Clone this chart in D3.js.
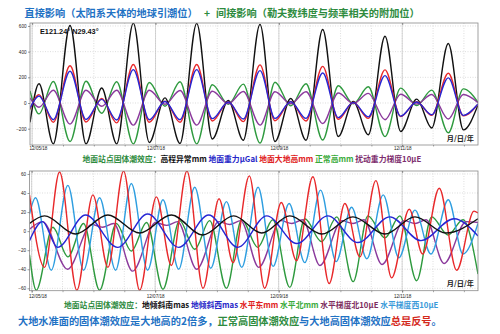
<!DOCTYPE html>
<html>
<head>
<meta charset="utf-8">
<script src="https://cdn.jsdelivr.net/npm/d3@7"></script>
<style>
  html, body { margin: 0; padding: 0; background: #fff; }
  svg { display: block; }
</style>
</head>
<body>
<svg id="chart" width="500" height="334"></svg>
<script>
// Time is counted in hours after 2018-12-05 00:00 (UTC).
const startHour = -0.84;
const endHour = 173.48;

// ---- upper panel: station solid-tide effects (extrema of each wave) ----
const tideHours = [-0.84, 2.67, 8.23, 14.73, 20.95, 27.06, 32.90, 39.36, 45.58, 51.69,
  57.53, 64.03, 70.10, 76.32, 82.16, 88.66, 94.49, 100.60, 106.56, 113.05,
  119.12, 124.96, 130.80, 137.30, 143.40, 149.63, 155.47, 161.93, 167.78, 173.48];
const heightAnomaly = [-150, 150, -318, 604, -318, 117, -318, 622, -307, 40,
  -315, 620, -280, 20, -290, 612, -300, 35, -290, 572,
  -261, 12, -247, 520, -222, 30, -195, 463, -209, -15];
const surfaceGravity = [-40, 55, -130, 247, -128, 28, -132, 260, -130, 12,
  -130, 260, -122, 8, -125, 252, -120, 10, -120, 234,
  -114, 5, -108, 213, -102, 8, -92, 196, -96, -8];
const geodeticHeight = [-50, 65, -150, 290, -148, 35, -155, 300, -150, 15,
  -150, 300, -140, 10, -145, 297, -138, 12, -140, 285,
  -127, 6, -120, 258, -106, 10, -96, 232, -100, -10];
const normalHeight = [95, -85, 168, -300, 170, -80, 165, -318, 160, -25,
  165, -318, 142, -10, 147, -312, 162, -22, 150, -288,
  134, -6, 126, -262, 116, -20, 100, -232, 110, 5];
const gravityGradient = [40, -33, 99, -164, 99, -25, 99, -172, 99, -10,
  97, -172, 92, -5, 90, -172, 88, -6, 88, -160,
  78, -3, 75, -130, 68, -8, 66, -125, 66, 3];
const upperTicks = [-200, 0, 200, 400, 600];

// ---- lower panel: tilt, horizontal displacement and gradient ([hour, value]) ----
const tiltSouth = [[-0.84, 8], [5.0, 16], [17.06, -3], [29.63, 17], [41.97, -2], [54.30, 17],
  [66.48, -4], [78.54, 16], [89.44, -2], [100.33, 16], [112.78, -3], [124.84, 15],
  [137.30, -3], [148.97, 15], [161.03, -2], [173.48, 13]];
const tiltWest = [[-0.84, -10], [4.22, 10], [10.06, -17], [20.95, 17], [33.40, -17], [45.08, 18],
  [57.15, -17], [68.83, 17], [80.11, -17], [91.39, 16], [103.06, -13], [115.12, 16],
  [126.79, -12], [139.24, 15], [151.30, -10], [164.14, 13], [173.48, -5]];
const eastDisp = [[-0.84, 38], [5.0, -38], [10.84, 62], [17.57, -62], [23.79, 38], [29.63, -38],
  [35.74, 63], [41.97, -62], [48.46, 36], [54.30, -36], [60.37, 63], [66.60, -60],
  [72.82, 34], [78.27, -33], [84.6, 58], [90.56, -60], [97.0, 30], [102.94, -31],
  [109.3, 57], [115.62, -55], [121.73, 29], [127.57, -27], [133.79, 53], [139.90, -49],
  [146.75, 23], [151.97, -24], [158.42, 45], [165.19, -41], [171.93, 21], [173.48, 19]];
const northDisp = [[-0.84, -25], [1.77, -62], [8.23, 4], [14.07, -27], [20.18, 8], [26.40, -62],
  [32.90, 8], [38.74, -21], [44.69, 9], [51.03, -61], [57.53, 11], [63.37, -19],
  [69.20, 11], [75.70, -60], [81.66, 12], [87.88, -17], [93.72, 12], [100.33, -59],
  [106.17, 13], [112.67, -11], [118.62, 15], [124.96, -53], [130.70, 16], [137.30, -7],
  [143.13, 16], [149.63, -52], [155.47, 15], [161.81, -4], [167.65, 12], [173.48, -45]];
const gradNorth = [[-0.84, 2], [4.22, 10], [13.95, -40], [23.29, 7], [27.57, 4], [31.85, 8],
  [39.24, -42], [48.19, 9], [52.47, 6], [56.75, 10], [64.14, -40], [72.70, 10],
  [76.98, 7], [81.26, 11], [88.27, -38], [96.83, 11], [101.11, 8], [105.39, 12],
  [112.06, -36], [120.62, 11], [124.90, 8], [129.18, 12], [136.19, -35], [144.75, 11],
  [149.03, 8], [153.31, 12], [160.31, -34], [168.87, 10], [173.48, 9]];
const gradWest = [[-0.84, 18], [1.50, 35], [7.61, -41], [14.07, 48], [20.18, -41], [26.40, 35],
  [32.63, -41], [38.74, 50], [45.08, -41], [51.03, 33], [57.15, -40], [63.37, 46],
  [69.60, -39], [75.70, 31], [81.66, -38], [88.0, 46], [93.83, -37], [100.06, 29],
  [106.17, -33], [112.28, 43], [118.35, -32], [124.34, 25], [130.29, -29], [136.63, 38],
  [142.74, -28], [148.97, 22], [155.19, -24], [161.93, 33], [167.65, -24], [173.48, 8]];
const lowerTicks = [-60, -40, -20, 0, 20, 40, 60];

const cjk = "'Noto Sans CJK SC', 'Noto Sans', sans-serif";
const latin = "'Liberation Sans', Arial, sans-serif";

const svg = d3.select("#chart");
const base = Date.UTC(2018, 11, 5);
const toDate = h => new Date(base + h * 3600e3);

function drawPanel(cfg) {
  const { id, left, right, top, bottom, yDomain, yTicks, series, labelBaseline } = cfg;
  const x = d3.scaleUtc().domain([toDate(startHour), toDate(endHour)]).range([left, right]);
  const y = d3.scaleLinear().domain(yDomain).range([bottom, top]);
  const g = svg.append("g");
  const [d0, d1] = x.domain();

  g.append("rect").attr("x", left).attr("y", top)
    .attr("width", right - left).attr("height", bottom - top).attr("fill", "#fff");

  // grid: every 12 hours, heavier at the labelled days
  const halfDays = d3.utcHour.every(12).range(d0, d1);
  const labelDays = d3.utcDay.every(2).range(d0, d1);
  g.append("g").selectAll("line").data(halfDays).join("line")
    .attr("x1", d => x(d)).attr("x2", d => x(d)).attr("y1", top).attr("y2", bottom)
    .attr("stroke", "#c8c8c8").attr("stroke-width", 0.6).attr("stroke-dasharray", "1,1.5");
  g.append("g").selectAll("line").data(labelDays).join("line")
    .attr("x1", d => x(d)).attr("x2", d => x(d)).attr("y1", top).attr("y2", bottom)
    .attr("stroke", "#c4c4c4").attr("stroke-width", 0.7);
  g.append("g").selectAll("line").data(yTicks).join("line")
    .attr("x1", left).attr("x2", right).attr("y1", d => y(d)).attr("y2", d => y(d))
    .attr("stroke", "#c8c8c8").attr("stroke-width", 0.6).attr("stroke-dasharray", "1,1.5");

  // curves
  svg.append("defs").append("clipPath").attr("id", id)
    .append("rect").attr("x", left).attr("y", top).attr("width", right - left).attr("height", bottom - top);
  const line = d3.line().x(d => x(toDate(d[0]))).y(d => y(d[1])).curve(d3.curveMonotoneX);
  const curves = g.append("g").attr("clip-path", `url(#${id})`);
  series.forEach(s => {
    curves.append("path").attr("d", line(s.points)).attr("fill", "none")
      .attr("stroke", s.color).attr("stroke-width", 1.4).attr("stroke-linejoin", "round");
  });

  // frame
  g.append("rect").attr("x", left).attr("y", top)
    .attr("width", right - left).attr("height", bottom - top)
    .attr("fill", "none").attr("stroke", "#8a8a8a").attr("stroke-width", 0.8);

  // x axis
  const xa = g.append("g").attr("transform", `translate(0,${bottom})`)
    .call(d3.axisBottom(x).tickValues(labelDays).tickFormat(d3.utcFormat("%m/%d/%y"))
      .tickSize(2).tickPadding(1));
  g.append("g").attr("transform", `translate(0,${bottom})`)
    .call(d3.axisBottom(x).tickValues(halfDays).tickFormat("").tickSize(1.5))
    .call(a => a.select(".domain").remove())
    .selectAll("line").attr("stroke", "#555").attr("stroke-width", 0.5);
  xa.select(".domain").remove();
  xa.selectAll("line").attr("stroke", "#555").attr("stroke-width", 0.6);
  xa.selectAll("text").attr("font-family", latin).attr("font-size", 4.6).attr("fill", "#222")
    .attr("dy", null).attr("y", labelBaseline - bottom);
  xa.selectAll(".tick").filter((d, i) => i === 0).select("text")
    .attr("text-anchor", "start").attr("x", left - x(labelDays[0]) - 1);
  g.append("g").attr("transform", `translate(0,${top})`)
    .call(d3.axisTop(x).tickValues(labelDays).tickFormat("").tickSize(-2))
    .call(a => a.select(".domain").remove())
    .selectAll("line").attr("stroke", "#555").attr("stroke-width", 0.6);

  // y axis
  const ya = g.append("g").attr("transform", `translate(${left},0)`)
    .call(d3.axisLeft(y).tickValues(yTicks).tickSize(2).tickPadding(1.5));
  ya.select(".domain").remove();
  ya.selectAll("line").attr("stroke", "#555").attr("stroke-width", 0.6);
  ya.selectAll("text").attr("font-family", latin).attr("font-size", 4.6).attr("fill", "#222");

  // axis caption inside the frame
  g.append("text").attr("x", right - 4).attr("y", bottom - 4.5).attr("text-anchor", "end")
    .attr("font-family", cjk).attr("font-size", 7.2).attr("font-weight", 700).attr("fill", "#222")
    .text("月/日/年");
  return { x, y, g };
}

// title
const title = svg.append("g").attr("font-family", cjk).attr("font-weight", 700).attr("font-size", 10.2);
title.append("text").attr("x", 24.5).attr("y", 17.4).attr("fill", "#1f72c4").text("直接影响（太阳系天体的地球引潮位）");
title.append("text").attr("x", 207).attr("y", 17.4).attr("text-anchor", "middle").attr("fill", "#2e8b3e").text("+");
title.append("text").attr("x", 216).attr("y", 17.4).attr("fill", "#2e8b3e").text("间接影响（勒夫数纬度与频率相关的附加位）");

// upper panel
const zip = vals => tideHours.map((h, i) => [h, vals[i]]);
const upper = drawPanel({
  id: "clipUpper", left: 30, right: 478, top: 23, bottom: 145,
  yDomain: [-327, 623], yTicks: upperTicks, labelBaseline: 149.6,
  series: [
    { points: zip(normalHeight), color: "#2e9a3e" },
    { points: zip(gravityGradient), color: "#8b3a9c" },
    { points: zip(heightAnomaly), color: "#111111" },
    { points: zip(geodeticHeight), color: "#e8282a" },
    { points: zip(surfaceGravity), color: "#2626d4" }
  ]
});
upper.g.append("text").attr("x", 40).attr("y", 33.5)
  .attr("font-family", latin).attr("font-weight", 700).attr("font-size", 7.3).attr("fill", "#111")
  .text("E121.24° N29.43°");

// lower panel
const lower = drawPanel({
  id: "clipLower", left: 29.5, right: 478, top: 171, bottom: 290.7,
  yDomain: [-62.5, 63.1], yTicks: lowerTicks, labelBaseline: 297.8,
  series: [
    { points: northDisp, color: "#2e9a3e" },
    { points: gradNorth, color: "#8b3a9c" },
    { points: gradWest, color: "#2e9ee0" },
    { points: eastDisp, color: "#e8282a" },
    { points: tiltWest, color: "#2626d4" },
    { points: tiltSouth, color: "#111111" }
  ]
});

// legends
function legend(x0, yb, parts) {
  const t = svg.append("text").attr("x", x0).attr("y", yb)
    .attr("font-family", cjk).attr("font-weight", 700).attr("font-size", 7.8)
    .attr("xml:space", "preserve");
  parts.forEach(p => t.append("tspan").attr("fill", p[1]).text(p[0]));
}
legend(82.5, 161.8, [
  ["地面站点固体潮效应：", "#2e8b3e"], ["高程异常mm", "#111"], [" 地面重力μGal", "#2626c8"],
  [" 地面大地高mm", "#e02020"], [" 正常高mm", "#3aaa3a"], [" 扰动重力梯度10μE", "#7d2d6e"]
]);
legend(64, 307.8, [
  ["地面站点固体潮效应：", "#2e8b3e"], ["地倾斜南mas", "#111"], [" 地倾斜西mas", "#2626c8"],
  [" 水平东mm", "#e02020"], [" 水平北mm", "#3aaa3a"], [" 水平梯度北10μE", "#7d2d5e"],
  [" 水平梯度西10μE", "#3a9ad9"]
]);

// footnote
const note = svg.append("text").attr("x", 18).attr("y", 325.4)
  .attr("font-family", cjk).attr("font-weight", 700).attr("font-size", 10.2);
[["大地水准面的固体潮效应是大地高的2倍多，", "#1f72c4"], ["正常高固体潮效应", "#2e8b3e"],
 ["与大地高固体潮效应", "#1f72c4"], ["总是反号", "#d42a1e"], ["。", "#1f72c4"]]
  .forEach(p => note.append("tspan").attr("fill", p[1]).text(p[0]));
</script>
</body>
</html>
